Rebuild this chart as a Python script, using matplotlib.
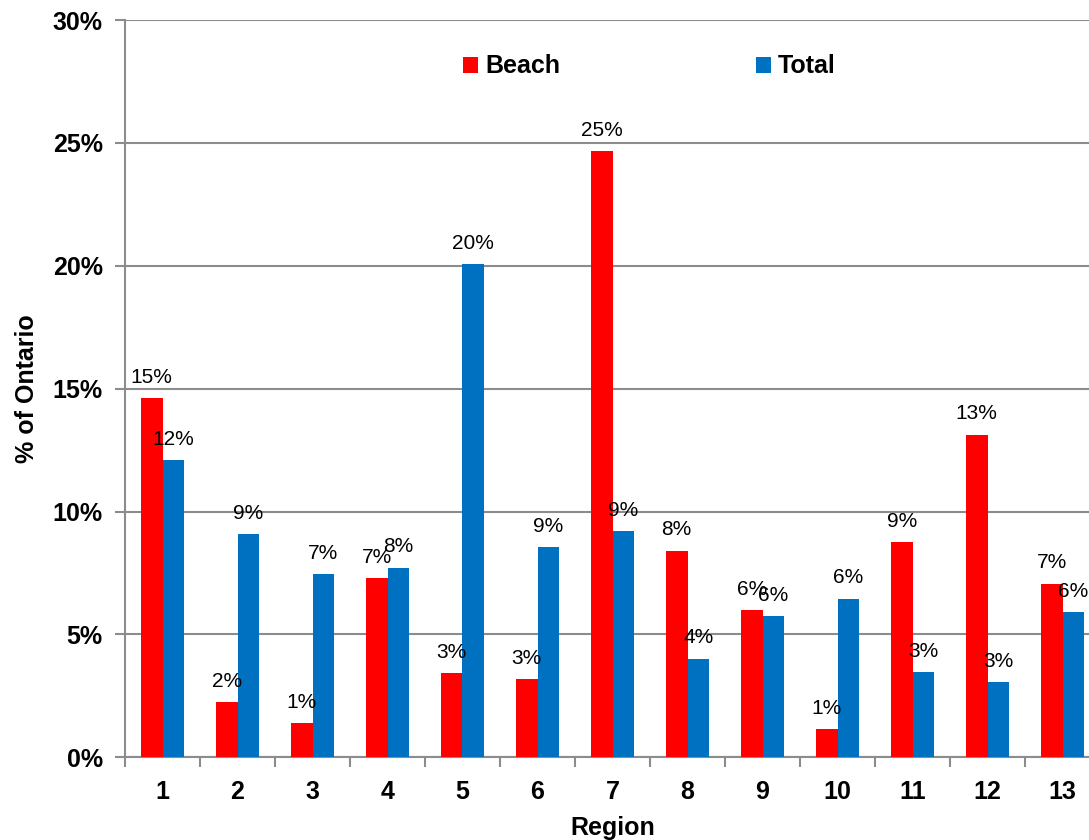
import numpy as np
import matplotlib.pyplot as plt
from matplotlib.ticker import FuncFormatter

plt.rcParams['font.family'] = ['Liberation Sans', 'DejaVu Sans']

regions = ['1', '2', '3', '4', '5', '6', '7', '8', '9', '10', '11', '12', '13']
beach = [14.6, 2.25, 1.38, 7.28, 3.41, 3.17, 24.65, 8.41, 6.0, 1.14, 8.75, 13.13, 7.07]
total = [12.1, 9.07, 7.44, 7.72, 20.08, 8.54, 9.2, 4.02, 5.75, 6.46, 3.46, 3.05, 5.92]

red = '#FF0000'
blue = '#0070C0'
grey = '#8C8C8C'

fig = plt.figure(figsize=(10.89, 8.40), dpi=100)
ax = fig.add_axes([125 / 1089, 1 - 757.3 / 840, 975 / 1089, 737.3 / 840])

x = np.arange(len(regions))
w = 0.29
b1 = ax.bar(x - w / 2, beach, w, color=red, label='Beach', zorder=3)
b2 = ax.bar(x + w / 2, total, w, color=blue, label='Total', zorder=3)

# value labels rounded to whole percent
for bars, vals in ((b1, beach), (b2, total)):
    for rect, v in zip(bars, vals):
        ax.annotate(f'{v:.0f}%', (rect.get_x() + rect.get_width() / 2, v),
                    xytext=(0, 8), textcoords='offset points',
                    ha='center', va='bottom', fontsize=15, zorder=4)

ax.set_xlim(-0.5, len(regions) - 0.5)
ax.set_ylim(0, 30)
ax.set_yticks(np.arange(0, 31, 5))
ax.yaxis.set_major_formatter(FuncFormatter(lambda v, p: f'{v:.0f}%'))
ax.yaxis.grid(True, color=grey, linewidth=1.5, zorder=0)

# category labels in the middle, tick marks between categories
ax.set_xticks(x)
ax.set_xticklabels(regions)
ax.set_xticks(np.arange(-0.5, len(regions)), minor=True)
ax.tick_params(axis='x', which='major', length=0, pad=16, labelsize=18)
ax.tick_params(axis='x', which='minor', length=7, width=1.5, color=grey)
ax.tick_params(axis='y', length=7, width=1.5, color=grey, labelsize=18, pad=9)
for lab in ax.get_xticklabels() + ax.get_yticklabels():
    lab.set_fontweight('bold')

for side in ('top', 'right'):
    ax.spines[side].set_visible(False)
for side in ('left', 'bottom'):
    ax.spines[side].set_color(grey)
    ax.spines[side].set_linewidth(1.5)

ax.set_xlabel('Region', fontsize=18, fontweight='bold', labelpad=9)
ax.set_ylabel('% of Ontario', fontsize=18, fontweight='bold', labelpad=10)

leg = ax.legend(ncol=2, loc='center', bbox_to_anchor=(0.538, 0.937),
                frameon=False, handlelength=0.6, handleheight=0.6,
                handletextpad=0.3, columnspacing=7.8,
                prop={'size': 18, 'weight': 'bold'})

fig.savefig('out.png', dpi=100)
